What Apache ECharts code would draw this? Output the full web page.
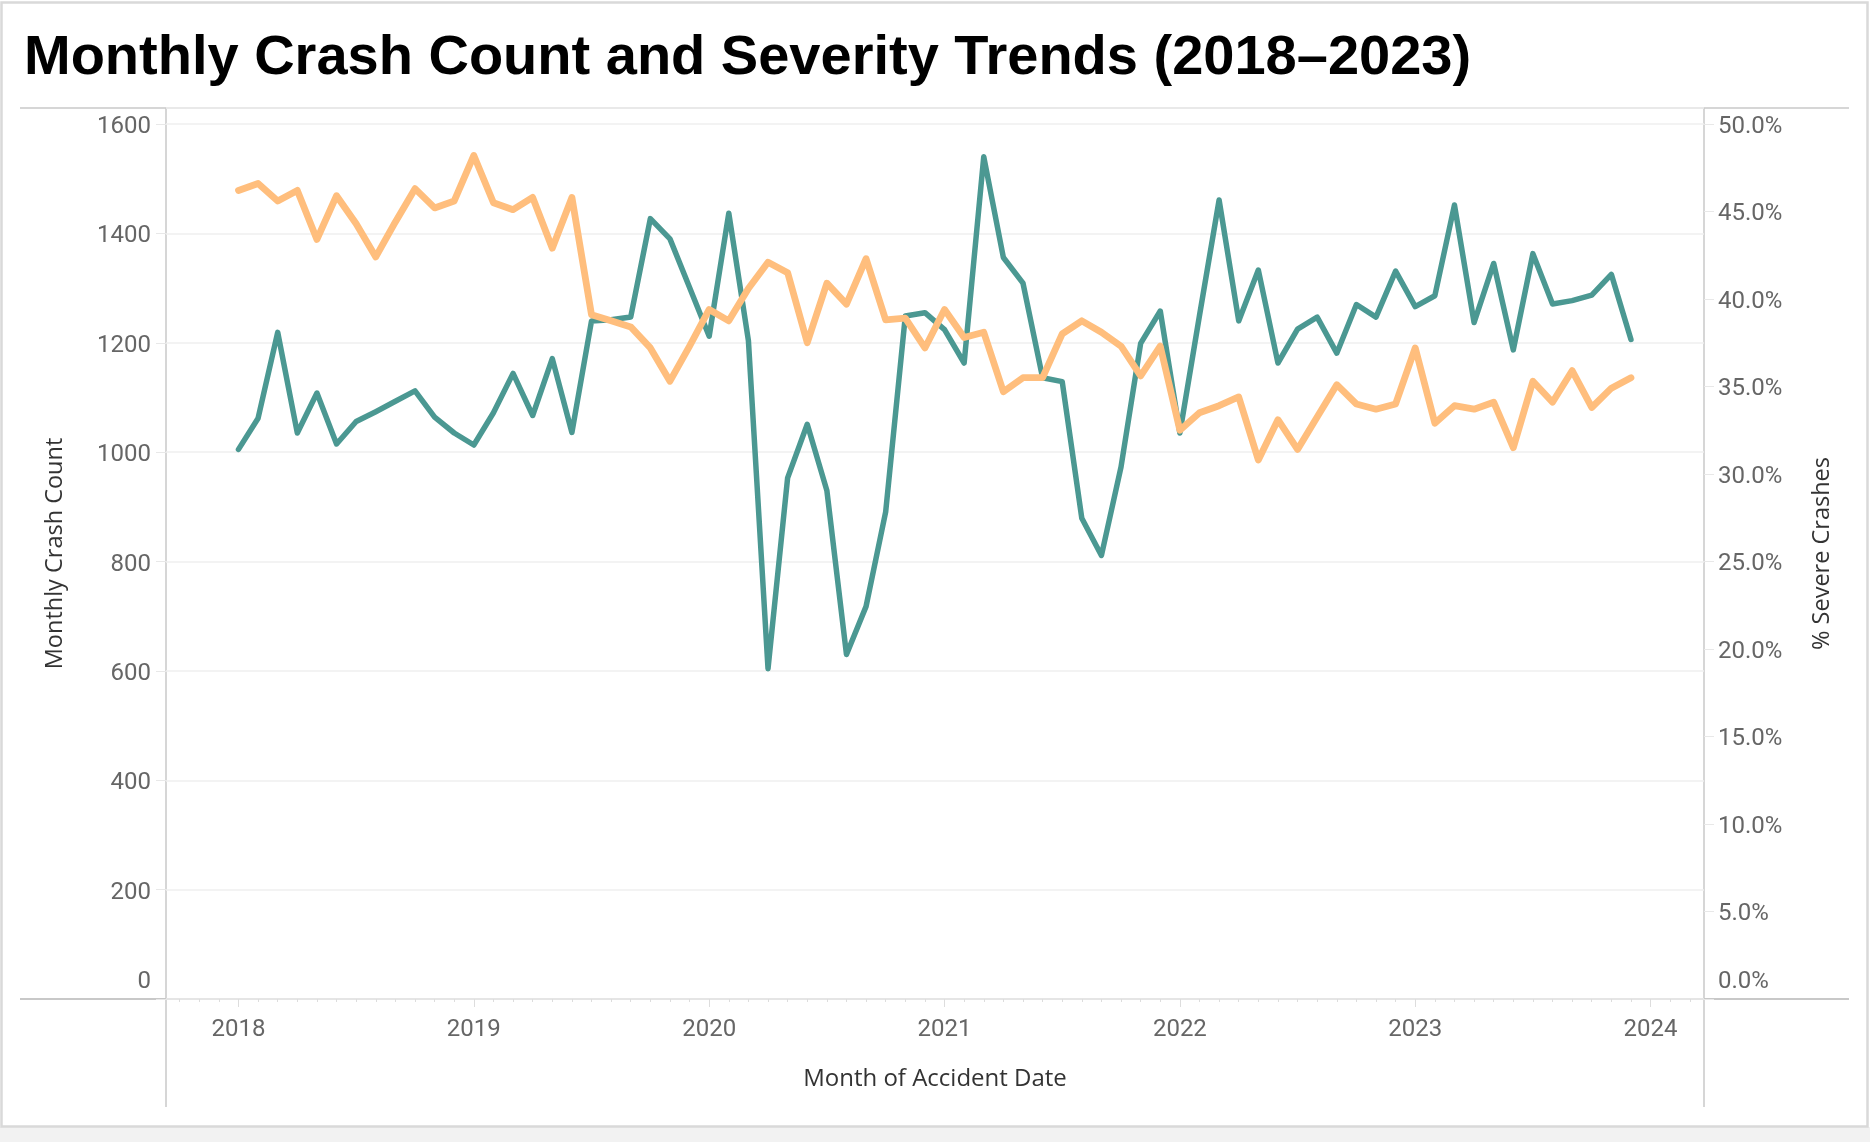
<!DOCTYPE html>
<html>
<head>
<meta charset="utf-8">
<title>Monthly Crash Count and Severity Trends</title>
<script src="https://cdn.jsdelivr.net/npm/echarts@6/dist/echarts.min.js"></script>
<style>
    html, body { margin: 0; padding: 0; background: #fff; }
    #chart { width: 1870px; height: 1142px; }
</style>
</head>
<body>
<div id="chart"></div>
<script>
    /** data, Jan 2018 .. Dec 2023 */
    var years = [2018, 2019, 2020, 2021, 2022, 2023]
    var months = []
    years.forEach(y => {
        for (var m = 1; m <= 12; m++) {
            months.push(y + '-' + (m < 10 ? '0' + m : m))
        }
    })

    var crashCounts = [
        1005, 1062, 1219, 1035, 1108, 1015, 1056, 1074, 1093, 1112, 1064, 1035,
        1013, 1072, 1144, 1067, 1171, 1036, 1240, 1242, 1247, 1427, 1390, 1301,
        1212, 1437, 1204, 604, 953, 1051, 930, 630, 718, 891, 1249, 1255,
        1224, 1163, 1540, 1356, 1309, 1136, 1129, 879, 811, 973, 1199, 1258,
        1035, 1250, 1461, 1240, 1333, 1163, 1225, 1247, 1181, 1270, 1247, 1331,
        1266, 1286, 1452, 1237, 1345, 1187, 1363, 1271, 1277, 1287, 1325, 1206
    ]

    var severePct = [
        46.2, 46.6, 45.6, 46.2, 43.4, 45.9, 44.3, 42.4, 44.4, 46.3, 45.2, 45.6,
        48.2, 45.5, 45.1, 45.8, 42.9, 45.8, 39.1, 38.75, 38.4, 37.2, 35.3, 37.3,
        39.4, 38.75, 40.6, 42.1, 41.5, 37.5, 40.9, 39.7, 42.3, 38.8, 38.9, 37.2,
        39.4, 37.8, 38.1, 34.7, 35.5, 35.5, 38.0, 38.75, 38.1, 37.3, 35.6, 37.3,
        32.5, 33.5, 33.9, 34.4, 30.8, 33.1, 31.4, 33.25, 35.1, 34.0, 33.7, 34.0,
        37.2, 32.9, 33.9, 33.7, 34.1, 31.5, 35.3, 34.1, 35.9, 33.8, 34.9, 35.5
    ]

    var yearTicks = [2018, 2019, 2020, 2021, 2022, 2023, 2024]

    // month string -> decimal year for the value x axis
    function toYear(s) {
        var p = s.split('-').map(Number)
        return p[0] + (p[1] - 1) / 12
    }

    // small month ticks, Oct 2017 .. Mar 2024
    var monthTicks = []
    for (var k = -3; k <= 74; k++) monthTicks.push(2018 + k / 12)

    var xMin = 2017.692, xMax = 2024.227
    var frame = '#c8c8c8'
    var tickFont = { fontFamily: 'Roboto', fontSize: 24, color: '#666666' }
    var nameFont = { fontFamily: 'Open Sans', fontSize: 23.5, color: '#333333' }

    var theChart = echarts.init(document.getElementById('chart'))
    var option = {
        animation: false,
        backgroundColor: '#ffffff',
        title: {
            text: 'Monthly Crash Count and Severity Trends (2018\u20132023)',
            left: 24,
            top: 31,
            padding: 0,
            textStyle: {
                fontFamily: 'Liberation Sans',
                fontWeight: 'bold',
                fontSize: 56,
                color: '#000000'
            }
        },
        grid: { left: 166, right: 166, top: 108, bottom: 143 },
        graphic: [
            { type: 'rect', silent: true, shape: { x: 0, y: 1127, width: 1870, height: 15 }, style: { fill: '#f2f2f2' } },
            { type: 'rect', silent: true, shape: { x: 1.5, y: 2.5, width: 1866, height: 1124 }, style: { fill: null, stroke: '#d9d9d9', lineWidth: 2.5 } },
            { type: 'line', silent: true, shape: { x1: 20, y1: 108, x2: 1849, y2: 108 }, style: { stroke: frame, lineWidth: 1.5 } },
            { type: 'line', silent: true, shape: { x1: 20, y1: 999, x2: 1849, y2: 999 }, style: { stroke: frame, lineWidth: 2 } },
            { type: 'line', silent: true, shape: { x1: 166, y1: 108, x2: 166, y2: 1107 }, style: { stroke: frame, lineWidth: 1.5 } },
            { type: 'line', silent: true, shape: { x1: 1704, y1: 108, x2: 1704, y2: 1107 }, style: { stroke: frame, lineWidth: 1.5 } }
        ],
        xAxis: [{
            type: 'value',
            min: xMin,
            max: xMax,
            name: 'Month of Accident Date',
            nameLocation: 'middle',
            nameGap: 68,
            nameTextStyle: Object.assign({}, nameFont, { fontSize: 24 }),
            axisLine: { show: false },
            axisTick: { show: true, customValues: monthTicks, length: 3, lineStyle: { color: '#dddddd' } },
            axisLabel: Object.assign({
                customValues: yearTicks,
                margin: 19,
                formatter: v => String(Math.round(v))
            }, tickFont),
            splitLine: { show: false }
        }, {
            type: 'value',
            min: xMin,
            max: xMax,
            position: 'bottom',
            axisLine: { show: false },
            axisTick: { show: true, customValues: yearTicks, length: 8, lineStyle: { color: '#dddddd' } },
            axisLabel: { show: false },
            splitLine: { show: false }
        }],
        yAxis: [{
            type: 'value',
            min: 0,
            max: 1629.3,
            interval: 200,
            position: 'left',
            name: 'Monthly Crash Count',
            nameLocation: 'middle',
            nameRotate: 90,
            nameGap: 99,
            nameTextStyle: nameFont,
            axisLine: { show: false },
            axisTick: { show: true, length: 10, lineStyle: { color: '#e8e8e8' } },
            axisLabel: Object.assign({
                showMaxLabel: false,
                margin: 15,
                padding: [6, 0, 0, 0],
                formatter: v => v === 0 ? '{z|0}' : String(v),
                rich: { z: Object.assign({ padding: [0, 0, 40, 0] }, tickFont) }
            }, tickFont),
            splitLine: { lineStyle: { color: '#efefef', width: 1.5 } }
        }, {
            type: 'value',
            min: 0,
            max: 50.91,
            interval: 5,
            position: 'right',
            name: '% Severe Crashes',
            nameLocation: 'middle',
            nameRotate: 90,
            nameGap: 106,
            nameTextStyle: nameFont,
            axisLine: { show: false },
            axisTick: { show: true, length: 10, lineStyle: { color: '#e8e8e8' } },
            axisLabel: Object.assign({
                showMaxLabel: false,
                margin: 14,
                padding: [6, 0, 0, 0],
                formatter: v => v === 0 ? '{z|0.0%}' : v.toFixed(1) + '%',
                rich: { z: Object.assign({ padding: [0, 0, 40, 0] }, tickFont) }
            }, tickFont),
            splitLine: { show: false }
        }],
        series: [{
            name: 'Monthly Crash Count',
            type: 'line',
            xAxisIndex: 0,
            yAxisIndex: 0,
            symbol: 'none',
            data: months.map((s, i) => [toYear(s), crashCounts[i]]),
            lineStyle: { color: '#4b9892', width: 5.5, join: 'round', cap: 'round' },
            itemStyle: { color: '#4b9892' }
        }, {
            name: '% Severe Crashes',
            type: 'line',
            xAxisIndex: 0,
            yAxisIndex: 1,
            symbol: 'none',
            data: months.map((s, i) => [toYear(s), severePct[i]]),
            lineStyle: { color: '#ffbe7d', width: 6.8, join: 'round', cap: 'round' },
            itemStyle: { color: '#ffbe7d' }
        }]
    }
    theChart.setOption(option)
</script>
</body>
</html>
